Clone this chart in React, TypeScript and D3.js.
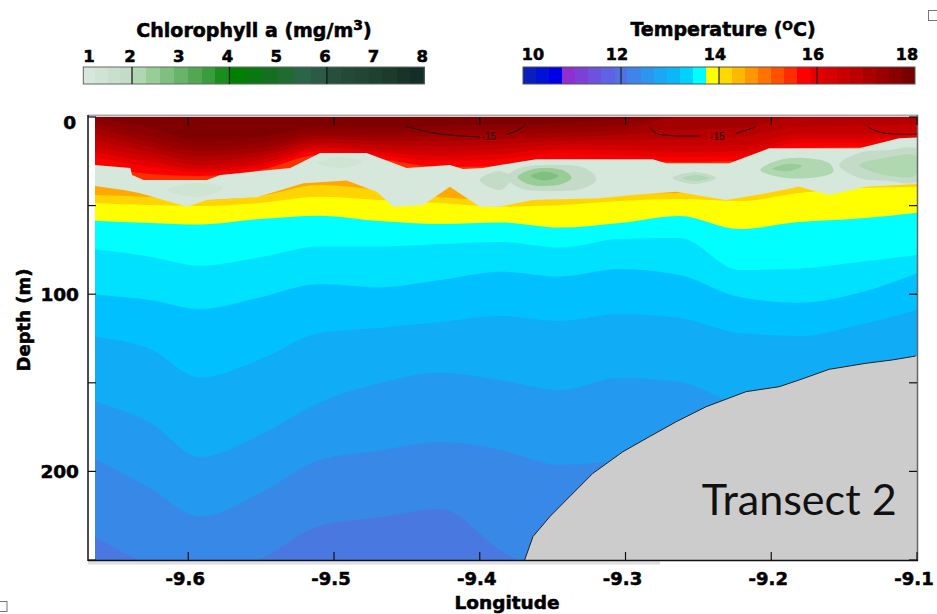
import React from "react";
import * as d3 from "d3";

const W = 937;
const H = 614;

// ---------- Temperature section: isotherm depths (m) at longitude nodes ----------
const lonNodes = [-9.664, -9.626, -9.592, -9.551, -9.51, -9.469, -9.427, -9.386, -9.345, -9.304, -9.263, -9.222, -9.181, -9.14, -9.1];

const isoLevels = [12.25, 12.5, 12.75, 13, 13.25, 13.5, 13.75, 14, 14.25, 14.5, 15.5, 15.75, 16, 16.25, 16.5, 16.75, 17, 17.25, 17.5, 17.75];
const bandColors = ["#3888e8", "#2399ef", "#10acf5", "#00c0ff", "#00e0ff", "#00ffff", "#ffff00", "#ffd400", "#ffa800", "#ff6000", "#ff3000", "#fb0000", "#e60000", "#d40000", "#c40000", "#b40000", "#a50000", "#980000", "#8b0000", "#7e0000"];
const coldColor = "#4878e0";

const iso12_25 = [236.9, 252.8, 259.4, 249.6, 230.8, 225.9, 221.2, 244.4, 262, 265, 268, 270, 270, 270, 270];
const iso12_50 = [193.2, 209.5, 225.5, 212.4, 193.6, 188.3, 183.4, 187.9, 196.4, 194.7, 199.2, 204.9, 210.5, 213.3, 216.1];
const iso12_75 = [160.7, 172.7, 191.9, 179.5, 161.2, 150.3, 144.3, 148.5, 154.1, 147.3, 149.5, 162.5, 168.2, 171.0, 171.0];
const iso13_00 = [124.0, 131.0, 147.0, 137.0, 121.9, 119.1, 115.7, 112.3, 115.1, 111.2, 113.4, 121.9, 123.6, 117.4, 108.9];
const iso13_25 = [100.1, 103.3, 108.4, 101.8, 94.2, 96.1, 92.0, 87.3, 90.0, 85.8, 89.2, 101.6, 104.8, 99.3, 88.2];
const iso13_50 = [74.7, 78.8, 83.9, 79.2, 73.1, 73.1, 71.7, 70.5, 73.6, 68.8, 68.3, 86.3, 85.5, 81.8, 77.9];
const iso13_75 = [58.5, 59.8, 60.7, 57.6, 55.7, 58.7, 60.4, 59.5, 62.4, 59.8, 55.8, 63.2, 59.3, 57.3, 54.0];
const iso14_00 = [48.5, 49.7, 50.2, 48.5, 45.0, 46.8, 48.5, 50.6, 49.7, 47.4, 46.3, 47.4, 42.9, 40.1, 39.5];
const iso14_25 = [44.0, 45.1, 46.8, 44.6, 38.4, 41.2, 45.1, 46.8, 46.3, 44.0, 42.9, 44.6, 39.5, 37.8, 37.2];
const iso14_50 = [36.7, 38.9, 42.3, 41.2, 34.4, 35.6, 38.4, 42.3, 42.3, 40.6, 39.5, 41.2, 36.1, 34.4, 33.9];
const iso15_50 = [31.0, 36.7, 37.2, 34.4, 25.4, 27.7, 31.6, 31.0, 27.7, 27.7, 28.8, 28.2, 21.4, 19.8, 16.4];
const iso15_75 = [27.7, 32.2, 33.3, 29.9, 21.4, 23.7, 28.2, 27.7, 23.7, 24.3, 25.4, 24.8, 17.5, 16.9, 14.1];
const iso16_00 = [22.6, 28.2, 31.0, 28.2, 19.2, 21.4, 24.8, 23.7, 20.3, 21.4, 22.6, 22.0, 14.7, 14.7, 12.4];
const iso16_25 = [19.8, 25.4, 29.3, 26.5, 17.5, 19.8, 22.0, 20.9, 18.1, 18.6, 19.8, 19.2, 12.4, 12.4, 10.2];
const iso16_50 = [16.4, 22.6, 27.1, 24.3, 15.8, 18.1, 19.2, 18.1, 15.8, 15.8, 16.4, 15.8, 9.6, 9.6, 7.9];
const iso16_75 = [13.0, 19.8, 24.8, 22.0, 14.1, 15.8, 16.4, 15.2, 13.5, 13.0, 12.4, 11.3, 5.6, 5.1, 4.0];
const iso17_00 = [9.6, 16.9, 22.0, 19.8, 12.4, 13.5, 13.5, 12.4, 11.3, 10.2, 7.3, 6.2, 0, 0, 0];
const iso17_25 = [6.2, 14.1, 19.2, 17.5, 10.7, 11.3, 10.7, 9.6, 9.0, 7.3, 0, 0, 0, 0, 0];
const iso17_50 = [3.4, 10.7, 16.4, 14.7, 8.5, 9.0, 7.9, 6.8, 6.2, 4.5, 0, 0, 0, 0, 0];
const iso17_75 = [0, 6.2, 13.0, 11.3, 5.6, 6.2, 5.1, 4.0, 3.4, 1.1, 0, 0, 0, 0, 0];

const isoDepths = [iso12_25, iso12_50, iso12_75, iso13_00, iso13_25, iso13_50, iso13_75, iso14_00, iso14_25, iso14_50, iso15_50, iso15_75, iso16_00, iso16_25, iso16_50, iso16_75, iso17_00, iso17_25, iso17_50, iso17_75];

// ---------- Chlorophyll layer (>= 1 mg/m3), [lon, depth] ----------
const chlUpper: [number, number][] = [[-9.664, 27.1], [-9.6397, 28.8], [-9.6386, 32.7], [-9.6306, 35.6], [-9.5872, 35.6], [-9.5781, 32.7], [-9.5301, 28.8], [-9.5096, 20.3], [-9.4776, 20.3], [-9.4502, 28.8], [-9.4205, 27.1], [-9.4114, 29.3], [-9.3977, 28.8], [-9.3863, 27.1], [-9.3612, 23.9], [-9.2813, 23.9], [-9.2721, 26.1], [-9.2288, 26.1], [-9.2014, 17.7], [-9.1397, 17.7], [-9.1123, 12.0], [-9.1, 11.5]];
const chlLower: [number, number][] = [[-9.664, 38.9], [-9.6443, 41.2], [-9.6329, 43.1], [-9.6009, 50.6], [-9.5872, 46.8], [-9.5529, 45.3], [-9.521, 37.4], [-9.4913, 35.9], [-9.4708, 42.2], [-9.4594, 50.6], [-9.4388, 49.7], [-9.4205, 39.3], [-9.4, 50.6], [-9.3863, 50.6], [-9.3635, 46.8], [-9.3178, 45.9], [-9.295, 44.0], [-9.2653, 42.2], [-9.231, 46.8], [-9.2036, 43.1], [-9.1808, 39.3], [-9.1603, 44.0], [-9.1351, 39.3], [-9.1, 37.8]];
const chlBaseLevel = 1.1;

const patchL1: [number, number][] = [[-9.6144, 41.2], [-9.5952, 37.2], [-9.576, 40.1], [-9.5918, 45.1]];
const patchL2: [number, number][] = [[-9.5116, 26.0], [-9.4959, 22.6], [-9.4801, 25.4], [-9.4959, 28.8]];
const patchL3: [number, number][] = [[-9.4, 35.6], [-9.3863, 30.5], [-9.3781, 34.4], [-9.3863, 41.2]];
const patchA1: [number, number][] = [[-9.3815, 33.9], [-9.3726, 28.8], [-9.3507, 27.1], [-9.3281, 28.8], [-9.3199, 35.0], [-9.3281, 40.1], [-9.3507, 41.8], [-9.3726, 40.1]];
const patchA2: [number, number][] = [[-9.374, 33.9], [-9.3658, 29.9], [-9.3534, 28.8], [-9.3418, 30.5], [-9.337, 34.4], [-9.3438, 37.8], [-9.3555, 38.9], [-9.3671, 37.8]];
const patchA3: [number, number][] = [[-9.365, 33.3], [-9.3555, 30.8], [-9.3459, 33.3], [-9.3555, 35.8]];
const patchB1: [number, number][] = [[-9.2678, 34.4], [-9.2527, 31.0], [-9.2377, 34.4], [-9.2527, 37.8]];
const patchB2: [number, number][] = [[-9.261, 34.4], [-9.2514, 32.7], [-9.2425, 34.4], [-9.2514, 36.1]];
const patchC1: [number, number][] = [[-9.2075, 29.9], [-9.1945, 24.3], [-9.1774, 23.1], [-9.1603, 26.0], [-9.1575, 31.0], [-9.174, 34.4], [-9.1945, 33.9]];
const patchC2: [number, number][] = [[-9.1993, 29.3], [-9.189, 26.5], [-9.1788, 27.7], [-9.1877, 30.5]];
const patchD1: [number, number][] = [[-9.1534, 27.1], [-9.1397, 20.3], [-9.1192, 18.6], [-9.1007, 17.5], [-9.09, 25], [-9.1007, 36.7], [-9.1192, 36.1], [-9.1397, 34.4]];
const patchD2: [number, number][] = [[-9.1397, 27.1], [-9.1226, 23.1], [-9.1007, 22.0], [-9.1007, 32.7], [-9.1226, 32.7]];
const chlPatches = [patchL1, patchL2, patchL3, patchA1, patchA2, patchA3, patchB1, patchB2, patchC1, patchC2, patchD1, patchD2];
const chlPatchLevels = [1.4, 1.4, 1.8, 1.8, 2.35, 2.6, 1.8, 2.1, 2.1, 2.4, 1.8, 2.1];

// ---------- Contour lines labelled -15 ----------
const contourA: [number, number][] = [[-9.4502, 5.4], [-9.4342, 8.6], [-9.4205, 10.2], [-9.4068, 11.0], [-9.4, 11.2]];
const contourB: [number, number][] = [[-9.3817, 10.0], [-9.3753, 7.9], [-9.3692, 5.1]];
const contourC: [number, number][] = [[-9.2836, 5.5], [-9.279, 9.2], [-9.2699, 10.4], [-9.2493, 10.7]];
const contourD: [number, number][] = [[-9.2242, 9.2], [-9.2178, 7.6], [-9.2105, 5.5]];
const contourE: [number, number][] = [[-9.134, 5.5], [-9.1288, 7.6], [-9.1238, 8.9], [-9.1123, 9.6], [-9.1, 9.6]];
const contourLines = [contourA, contourB, contourC, contourD, contourE];
const contourLabels: [number, number][] = [[-9.3938, 13.2], [-9.237, 12.7]];
const contourLabelText = "-15";

// ---------- Bathymetry ----------
const bathy: [number, number][] = [[-9.3692, 250], [-9.3635, 236.8], [-9.352, 225.6], [-9.3406, 216.1], [-9.3224, 201.1], [-9.3018, 188.9], [-9.2836, 180.4], [-9.2653, 172.0], [-9.2447, 163.5], [-9.2173, 155.0], [-9.1945, 152.2], [-9.1808, 148.4], [-9.1603, 142.4], [-9.1351, 139.0], [-9.1169, 137.1], [-9.1009, 134.9]];

// ---------- Axes ----------
const xTicks = [-9.6, -9.5, -9.4, -9.3, -9.2, -9.1];
const xTickLabels = ["-9.6", "-9.5", "-9.4", "-9.3", "-9.2", "-9.1"];
const yTicks = [0, 50, 100, 150, 200, 250];
const yLabelled = [0, 100, 200];

// ---------- Legends ----------
const chlBreaks = [1, 1.25, 1.5, 1.75, 2, 2.29, 2.57, 2.86, 3.14, 3.43, 3.71, 4, 4.33, 4.67, 5, 5.33, 5.67, 6, 6.29, 6.57, 6.86, 7.14, 7.43, 7.71, 8];
const chlColors = ["#d5e8db", "#d0e4d4", "#cae0ce", "#c4dcc7", "#b0d8b0", "#98cd98", "#7fc080", "#68b468", "#52a852", "#3a9c3a", "#1c8c1c", "#008000", "#0a7812", "#147020", "#1f6b30", "#2a6449", "#2b5b47", "#264f3d", "#234a39", "#214636", "#1e4132", "#1b3b2d", "#173428", "#132d2a"];
const chlLegendTicks = [1, 2, 3, 4, 5, 6, 7, 8];
const chlDividers = [2, 4, 6];

const tempBreaks = [10, 10.27, 10.53, 10.8, 11.07, 11.33, 11.6, 11.87, 12.13, 12.4, 12.67, 12.93, 13.2, 13.47, 13.73, 14, 14.27, 14.53, 14.8, 15.07, 15.33, 15.6, 15.87, 16.13, 16.4, 16.67, 16.93, 17.2, 17.47, 17.73, 18];
const tempColors = ["#0a1ebe", "#0012d6", "#0000e8", "#8e2fd0", "#7c40d8", "#6c52de", "#5f62e2", "#4f72e4", "#3e84ea", "#2c95f0", "#19a7f6", "#0bb7fa", "#00d2ff", "#00ffff", "#ffff00", "#ffd800", "#ffb800", "#ff9800", "#ff7400", "#ff5000", "#ff2c00", "#ff0000", "#e40000", "#d80000", "#ca0000", "#bc0000", "#aa0000", "#9a0000", "#8a0000", "#780000"];
const tempLegendTicks = [10, 12, 14, 16, 18];
const tempDividers = [12, 14, 16];

const FONT = "'DejaVu Sans', Verdana, sans-serif";

export default function App() {
  const x = d3.scaleLinear().domain([-9.664, -9.1]).range([95, 917]);
  const y = d3.scaleLinear().domain([0, 250]).range([117, 560]);
  const chlX = d3.scaleLinear().domain([1, 8]).range([83.3, 424.3]);
  const tX = d3.scaleLinear().domain([10, 18]).range([523, 915]);
  const chlColor = d3.scaleThreshold<number, string>().domain(chlBreaks.slice(1, -1)).range(chlColors);

  const area = d3
    .area<[number, number]>()
    .x((d) => x(d[0]))
    .y0(y(-10))
    .y1((d) => y(d[1]))
    .curve(d3.curveMonotoneX);

  const bands = isoLevels.map((lv, i) => ({
    level: lv,
    color: bandColors[i],
    path: area(lonNodes.map((lon, j) => [lon, isoDepths[i][j]] as [number, number])) || "",
  }));

  const lineLin = d3.line<[number, number]>().x((d) => x(d[0])).y((d) => y(d[1]));
  const closedLin = d3.line<[number, number]>().x((d) => x(d[0])).y((d) => y(d[1])).curve(d3.curveLinearClosed);
  const closedSmooth = d3.line<[number, number]>().x((d) => x(d[0])).y((d) => y(d[1])).curve(d3.curveCatmullRomClosed.alpha(0.5));
  const smoothOpen = d3.line<[number, number]>().x((d) => x(d[0])).y((d) => y(d[1])).curve(d3.curveCatmullRom.alpha(0.5));

  const chlRegion = closedLin([...chlUpper, ...chlLower.slice().reverse()]) || "";

  const first = bathy[0];
  const last = bathy[bathy.length - 1];
  const bathyFill = closedLin([...bathy, [last[0] + 0.02, last[1]], [last[0] + 0.02, 262], [first[0], 262]]) || "";
  const bathyLine = lineLin(bathy) || "";

  const [xl, xr] = x.range();
  const [yt, yb] = y.range();

  const heavy = { stroke: "#000", strokeWidth: 0.55, fill: "#000" };

  return (
    <svg width={W} height={H} style={{ position: "absolute", left: 0, top: 0, display: "block", background: "#fff" }} fontFamily={FONT}>
      <defs>
        <clipPath id="plotClip">
          <rect x={xl} y={yt} width={xr - xl} height={yb - yt} />
        </clipPath>
      </defs>
      <rect x={0} y={0} width={W} height={H} fill="#fff" />

      {/* ---------- Plot content ---------- */}
      <g clipPath="url(#plotClip)">
        <rect x={xl} y={yt} width={xr - xl} height={yb - yt} fill={coldColor} />
        {bands.map((b) => (
          <path key={b.level} d={b.path} fill={b.color} />
        ))}
        <path d={chlRegion} fill={chlColor(chlBaseLevel)} />
        {chlPatches.map((p, i) => (
          <path key={i} d={closedSmooth(p) || ""} fill={chlColor(chlPatchLevels[i])} />
        ))}
        {contourLines.map((c, i) => (
          <path key={i} d={smoothOpen(c) || ""} fill="none" stroke="#111" strokeWidth={0.9} />
        ))}
        {contourLabels.map((p, i) => (
          <text key={i} x={x(p[0])} y={y(p[1])} fontSize={10} fontFamily="'Liberation Sans', Arial, sans-serif" textAnchor="middle" fill="#111">
            {contourLabelText}
          </text>
        ))}
        <path d={bathyFill} fill="#cccccc" />
        <path d={bathyLine} fill="none" stroke="#222" strokeWidth={1} />
      </g>

      {/* ---------- Frame and ticks ---------- */}
      <rect x={88} y={561.5} width={572} height={3} fill="#dedede" />
      <line x1={88} y1={115.5} x2={918} y2={115.5} stroke="#a8a8a8" strokeWidth={2} />
      <line x1={917.5} y1={115} x2={917.5} y2={561} stroke="#666" strokeWidth={1.5} />
      <line x1={88} y1={115} x2={88} y2={561} stroke="#111" strokeWidth={1.5} />
      <line x1={88} y1={560.5} x2={918} y2={560.5} stroke="#111" strokeWidth={1.5} />
      {xTicks.map((t) => (
        <g key={t}>
          <line x1={x(t)} x2={x(t)} y1={yb} y2={yb - 8} stroke="#111" strokeWidth={1.2} />
          <line x1={x(t)} x2={x(t)} y1={yt} y2={yt + 8} stroke="#111" strokeWidth={1.2} />
        </g>
      ))}
      {yTicks.map((t) => (
        <g key={t}>
          <line x1={88} x2={96} y1={y(t)} y2={y(t)} stroke="#111" strokeWidth={1.2} />
          <line x1={xr} x2={xr - 8} y1={y(t)} y2={y(t)} stroke="#111" strokeWidth={1.2} />
        </g>
      ))}

      {/* ---------- Axis labels ---------- */}
      <g fontWeight="bold" {...heavy}>
        {xTicks.map((t, i) => (
          <text key={t} x={x(t) - 3} y={585} textAnchor="middle" fontSize={18}>
            {xTickLabels[i]}
          </text>
        ))}
        {yLabelled.map((t) => (
          <text key={t} x={t === 0 ? 76 : 79} y={Math.max(y(t), 122) + 6.5} textAnchor="end" fontSize={18.5}>
            {t}
          </text>
        ))}
        <text x={507} y={609} textAnchor="middle" fontSize={18.5}>
          Longitude
        </text>
        <text transform="translate(30,320) rotate(-90)" textAnchor="middle" fontSize={18}>
          Depth (m)
        </text>

        {/* ---------- Chlorophyll legend text ---------- */}
        <text x={254} y={37} textAnchor="middle" fontSize={19}>
          Chlorophyll a (mg/m<tspan dy={-7} fontSize={14}>3</tspan>
          <tspan dy={7}>)</tspan>
        </text>
        {chlLegendTicks.map((v) => (
          <text key={v} x={Math.max(chlX(v) - 2, 89)} y={61.7} textAnchor="middle" fontSize={16.5}>
            {v}
          </text>
        ))}

        {/* ---------- Temperature legend text ---------- */}
        <text x={723} y={36} textAnchor="middle" fontSize={19}>
          Temperature (<tspan dy={-6} fontSize={12.5}>O</tspan>
          <tspan dy={6}>C)</tspan>
        </text>
        {tempLegendTicks.map((v) => (
          <text key={v} x={Math.min(Math.max(tX(v) - 4, 533), 907)} y={60} textAnchor="middle" fontSize={16}>
            {v}
          </text>
        ))}
      </g>

      <text x={701.7} y={515} fontSize={42} fontFamily="Lato, 'Open Sans', sans-serif" textLength={195} lengthAdjust="spacingAndGlyphs" fill="#111">
        Transect 2
      </text>

      {/* ---------- Legend bars ---------- */}
      {chlColors.map((c, i) => (
        <rect key={i} x={chlX(chlBreaks[i])} y={67} width={chlX(chlBreaks[i + 1]) - chlX(chlBreaks[i]) + 0.4} height={17} fill={c} shapeRendering="crispEdges" />
      ))}
      <rect x={chlX(1)} y={67} width={chlX(8) - chlX(1)} height={17} fill="none" stroke="#666" strokeWidth={1} />
      {chlDividers.map((v) => (
        <line key={v} x1={chlX(v)} x2={chlX(v)} y1={67} y2={84} stroke="#111" strokeWidth={1.2} />
      ))}

      {tempColors.map((c, i) => (
        <rect key={i} x={tX(tempBreaks[i])} y={67} width={tX(tempBreaks[i + 1]) - tX(tempBreaks[i]) + 0.4} height={17} fill={c} shapeRendering="crispEdges" />
      ))}
      <rect x={tX(10)} y={67} width={tX(18) - tX(10)} height={17} fill="none" stroke="#555" strokeWidth={1} />
      {tempDividers.map((v) => (
        <line key={v} x1={tX(v)} x2={tX(v)} y1={67} y2={84} stroke="#222" strokeWidth={1.2} />
      ))}

      {/* small selection-handle squares */}
      <rect x={928.5} y={10.5} width={9} height={10} fill="none" stroke="#777" strokeWidth={1} />
      <rect x={-1} y={601.5} width={8} height={10} fill="none" stroke="#777" strokeWidth={1} />
    </svg>
  );
}
